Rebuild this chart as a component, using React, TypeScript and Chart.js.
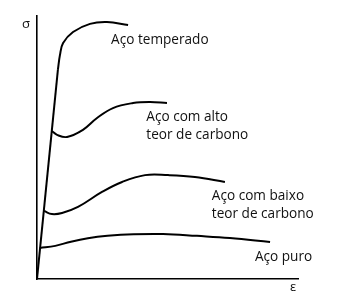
import React, { useEffect, useRef } from "react";
import { Chart, registerables } from "chart.js";

Chart.register(...registerables);

// Elastic (straight) segment shared by all curves: strain, stress
const elasticX = [0, 8.0];
const elasticY = [0, 79.5];

const temperadoX = [8.0, 8.8, 10.0, 13.8, 20.3, 26.8, 34.9];
const temperadoY = [79.5, 85.2, 89.7, 93.9, 97.0, 97.7, 96.6];

const altoX = [5.7, 7.7, 11.5, 17.6, 23.0, 29.1, 36.8, 43.3, 49.8];
const altoY = [56.3, 54.8, 54.0, 56.7, 61.2, 65.0, 66.9, 67.3, 66.9];

const baixoX = [2.7, 5.7, 9.6, 15.7, 24.9, 32.6, 41.4, 50.2, 60.5, 72.0];
const baixoY = [25.9, 24.7, 25.1, 27.4, 33.1, 36.9, 39.5, 39.5, 38.8, 36.9];

const puroX = [1.1, 7.0, 13.0, 19.5, 27.0, 37.0, 48.3, 61.3, 73.9, 89.3];
const puroY = [11.8, 12.6, 14.2, 15.5, 16.4, 17.0, 17.1, 16.4, 15.6, 14.1];

// Text labels (left-aligned, vertically centred)
const labelTexts = ["Aço temperado", "Aço com alto", "teor de carbono", "Aço com baixo", "teor de carbono", "Aço puro"];
const labelX = [28.4, 41.9, 41.9, 67.0, 67.0, 83.5];
const labelY = [90.9, 61.6, 54.8, 31.6, 24.7, 8.4];

const axisYTitle = "σ";
const axisXTitle = "ε";

const toPoints = (xs: number[], ys: number[]) => xs.map((x, i) => ({ x, y: ys[i] }));

export default function App() {
  const ref = useRef<HTMLCanvasElement | null>(null);

  useEffect(() => {
    if (!ref.current) return;
    const lineStyle = {
      borderColor: "#000",
      borderWidth: 2,
      pointRadius: 0,
      fill: false,
      showLine: true,
      tension: 0.4,
    };
    const labelPlugin = {
      id: "labels",
      afterDraw(chart: any) {
        const { ctx, scales } = chart;
        const xs = scales.x;
        const ys = scales.y;
        ctx.save();
        ctx.fillStyle = "#111";
        ctx.textBaseline = "middle";
        ctx.textAlign = "left";
        ctx.font = "13.6px 'Open Sans'";
        labelTexts.forEach((t, i) => {
          ctx.fillText(t, xs.getPixelForValue(labelX[i]), ys.getPixelForValue(labelY[i]));
        });
        ctx.textAlign = "center";
        ctx.font = "13px 'Open Sans'";
        ctx.fillText(axisYTitle, xs.getPixelForValue(-4.2), ys.getPixelForValue(97.0));
        ctx.fillText(axisXTitle, xs.getPixelForValue(98.1), ys.getPixelForValue(-3.0));
        ctx.restore();
      },
    };
    const chart = new Chart(ref.current, {
      type: "scatter",
      data: {
        datasets: [
          { ...lineStyle, data: toPoints(elasticX, elasticY), tension: 0 },
          { ...lineStyle, data: toPoints(temperadoX, temperadoY) },
          { ...lineStyle, data: toPoints(altoX, altoY) },
          { ...lineStyle, data: toPoints(baixoX, baixoY) },
          { ...lineStyle, data: toPoints(puroX, puroY) },
        ] as any,
      },
      options: {
        animation: false,
        responsive: false,
        layout: { padding: { left: 37, top: 16, right: 46, bottom: 21 } },
        plugins: { legend: { display: false }, tooltip: { enabled: false } },
        scales: {
          x: {
            type: "linear",
            min: 0,
            max: 100,
            grid: { display: false, drawTicks: false },
            ticks: { display: false },
            border: { display: true, color: "#000", width: 1.6 },
          },
          y: {
            type: "linear",
            min: 0,
            max: 100,
            grid: { display: false, drawTicks: false },
            ticks: { display: false },
            border: { display: true, color: "#000", width: 1.6 },
          },
        },
      },
      plugins: [labelPlugin],
    });
    return () => chart.destroy();
  }, []);

  return (
    <div style={{ position: "fixed", left: 0, top: 0, width: 344, height: 300, background: "#fff" }}>
      <canvas ref={ref} width={344} height={300} style={{ display: "block" }} />
    </div>
  );
}
